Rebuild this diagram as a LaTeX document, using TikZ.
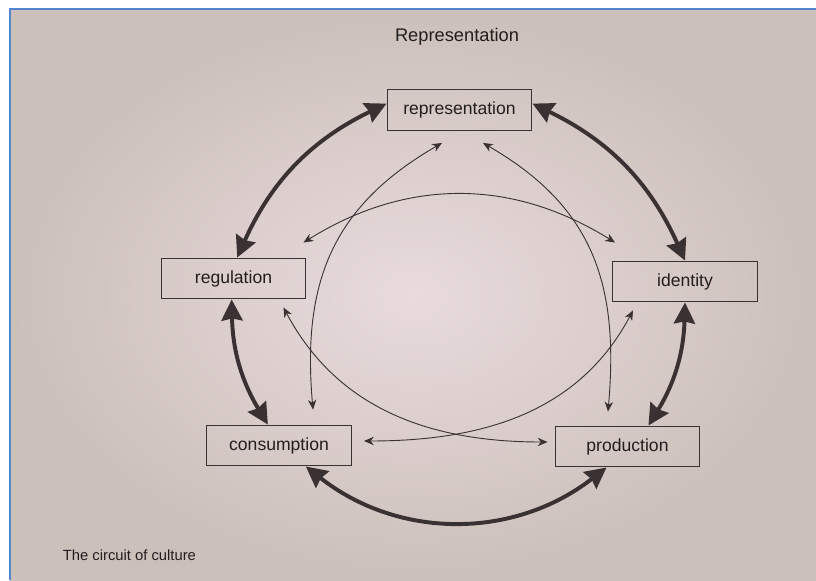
\documentclass[tikz,border=0pt]{standalone}
\usepackage{fontspec}
\setmainfont{Liberation Sans}
\usetikzlibrary{arrows.meta, calc}
\definecolor{pagetone}{RGB}{204, 192, 186}
\definecolor{pagelight}{RGB}{233, 219, 221}
\definecolor{frameblue}{RGB}{84, 132, 205}
\definecolor{inkgray}{RGB}{58, 50, 50}

\begin{document}
\begin{tikzpicture}[x=0.025cm, y=0.025cm,
  box/.style={draw=inkgray, line width=0.8pt, minimum width=3.62cm, minimum height=1.02cm,
    inner sep=0pt, text=inkgray!60!black, font=\fontsize{12.5}{14}\selectfont},
  bigarr/.style={>={Stealth[length=15pt, width=15pt, inset=1.5pt]}, <->, line width=2.8pt, draw=inkgray},
  smallarr/.style={>={Stealth[length=7pt, width=6pt]}, <->, line width=0.65pt, draw=inkgray}]
  \useasboundingbox (0,0) rectangle (816,-580);

  % page
  \fill[white] (0,0) rectangle (816,-580);
  \shade[inner color=pagelight, outer color=pagetone] (10,-9) rectangle (816,-580);
  \draw[frameblue, line width=1.2pt] (10,-580) -- (10,-9) -- (816,-9);

  % labels
  \node[text=inkgray!60!black, font=\fontsize{13}{15}\selectfont] (title) at (457,-37) {Representation};
  \node[anchor=west, text=inkgray!60!black, font=\fontsize{10.5}{12}\selectfont] (caption) at (58,-555) {The circuit of culture};

  % moments
  \node[box] (rep) at (459.5,-110) {representation};
  \node[box] (reg) at (233.5,-278.5) {regulation};
  \node[box] (ide) at (685,-281.5) {identity};
  \node[box] (con) at (279,-445.5) {consumption};
  \node[box] (pro) at (627.5,-446.5) {production};

  % outer circuit
  \draw[bigarr] (reg.80) to[bend left=20] (rep.175);
  \draw[bigarr] (rep.5) to[bend left=20] (ide.north);
  \draw[bigarr] (ide.south) to[bend left=15] (pro.45);
  \draw[bigarr] (pro.225) to[bend left=38] (con.-38);
  \draw[bigarr] (con.118) to[bend left=15] (reg.265);

  % inner links
  \draw[smallarr] ($(reg.north east)+(-3,15)$) to[bend left=32] ($(ide.north west)+(3,18)$);
  \draw[smallarr] ($(con.north)+(34,15)$) to[out=95, in=210, looseness=1.1] ($(rep.south)+(-17.5,-12)$);
  \draw[smallarr] ($(pro.north)+(-19.5,14)$) to[out=85, in=330, looseness=1.1] ($(rep.south)+(23.5,-12)$);
  \draw[smallarr] ($(reg.south east)+(-23,-8)$) to[out=-62, in=180] ($(pro.west)+(-7,4.5)$);
  \draw[smallarr] ($(ide.south west)+(21,-8)$) to[out=242, in=0] ($(con.east)+(12,4.5)$);
\end{tikzpicture}
\end{document}
